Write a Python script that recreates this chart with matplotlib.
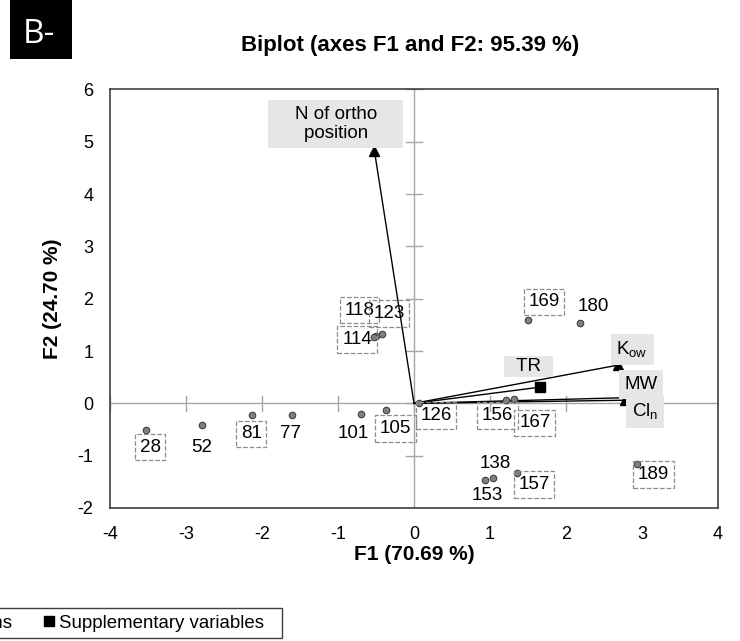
import matplotlib.pyplot as plt
from matplotlib.patches import Rectangle
from matplotlib.lines import Line2D

plt.rcParams['font.family'] = ['Liberation Sans', 'DejaVu Sans']
plt.rcParams['axes.unicode_minus'] = False

# active observations (PCB congeners)
obs_names = ['28', '52', '81', '77', '101', '105', '126', '118', '123', '114',
             '169', '180', '156', '167', '138', '153', '157', '189']
obs_f1 = [-3.52, -2.79, -2.13, -1.61, -0.70, -0.37, 0.07, -0.50, -0.42, -0.52,
          1.50, 2.18, 1.21, 1.32, 1.04, 0.93, 1.36, 2.93]
obs_f2 = [-0.50, -0.42, -0.23, -0.23, -0.21, -0.13, 0.00, 1.29, 1.32, 1.27,
          1.59, 1.54, 0.06, 0.09, -1.43, -1.47, -1.34, -1.15]
obs_boxed = [True, False, True, False, False, True, True, True, True, True,
             True, False, True, True, False, False, True, True]
# label offsets from each point (data units)
obs_dx = [0.05, 0.00, -0.01, -0.01, -0.10, 0.13, 0.22, -0.22, 0.09, -0.23,
          0.21, 0.18, -0.11, 0.27, 0.03, 0.03, 0.22, 0.22]
obs_dy = [-0.34, -0.43, -0.35, -0.34, -0.36, -0.35, -0.23, 0.49, 0.40, -0.05,
          0.35, 0.32, -0.29, -0.46, 0.28, -0.29, -0.21, -0.21]

# active variables
var_names = ['    N of ortho    \n    position    ', 'K$_{\\mathregular{ow}}$', 'MW',
             'Cl$_{\\mathregular{n}}$']
var_f1 = [-0.52, 2.68, 2.82, 2.77]
var_f2 = [4.82, 0.73, 0.11, 0.06]
var_lx = [-1.03, 2.87, 2.99, 3.04]
var_ly = [5.34, 1.03, 0.36, -0.17]

# supplementary variable
sup_names = ['  TR  ']
sup_f1 = [1.66]
sup_f2 = [0.31]
sup_lx = [1.51]
sup_ly = [0.70]

fig = plt.figure(figsize=(7.4, 6.41), dpi=100)
ax = fig.add_axes([110 / 740, 0.2075, 608 / 740, 0.6529])
ax.set_xlim(-4, 4)
ax.set_ylim(-2, 6)
ax.set_xticks(range(-4, 5))
ax.set_yticks(range(-2, 7))
ax.tick_params(length=0, labelsize=13)
ax.tick_params(axis='y', pad=12)
ax.tick_params(axis='x', pad=13)
for s in ax.spines.values():
    s.set_color('#404040')
    s.set_linewidth(1.2)

# zero axes with small crosses
ax.axhline(0, color='#a6a6a6', lw=1, zorder=1)
ax.axvline(0, color='#a6a6a6', lw=1, zorder=1)
for t in range(-2, 7):
    ax.plot([-0.1, 0.1], [t, t], color='#a6a6a6', lw=1, zorder=1)
for t in range(-4, 5):
    ax.plot([t, t], [-0.14, 0.14], color='#a6a6a6', lw=1, zorder=1)

# vectors
for x, y in zip(var_f1, var_f2):
    ax.plot([0, x], [0, y], color='black', lw=1, zorder=2)
    ax.plot(x, y, marker='^', color='black', ms=7, zorder=3)
for x, y in zip(sup_f1, sup_f2):
    ax.plot([0, x], [0, y], color='black', lw=1, zorder=2)
    ax.plot(x, y, marker='s', color='black', ms=7, zorder=3)

# observations
ax.scatter(obs_f1, obs_f2, s=22, color='#808080', edgecolor='#404040', lw=0.8, zorder=4)
for name, x, y, dx, dy, boxed in zip(obs_names, obs_f1, obs_f2, obs_dx, obs_dy, obs_boxed):
    bb = None
    if boxed:
        bb = dict(boxstyle='square,pad=0.25', fc='none', ec='#8c8c8c', ls='--', lw=0.9)
    ax.text(x + dx, y + dy, name, ha='center', va='center', fontsize=13.5, bbox=bb, zorder=5)

lab_box = dict(boxstyle='square,pad=0.3', fc='#e6e6e6', ec='none')
for name, lx, ly in zip(var_names, var_lx, var_ly):
    ax.text(lx, ly, name, ha='center', va='center', fontsize=13.5, bbox=lab_box,
            linespacing=1.2, multialignment='center', zorder=5)
for name, lx, ly in zip(sup_names, sup_lx, sup_ly):
    ax.text(lx, ly, name, ha='center', va='center', fontsize=13.5,
            bbox=dict(boxstyle='square,pad=0.1', fc='#e6e6e6', ec='none'), zorder=5)

fig.text(410 / 740, 1 - 46 / 641, 'Biplot (axes F1 and F2: 95.39 %)', fontsize=16,
         fontweight='bold', ha='center', va='center')
fig.text(414 / 740, 1 - 555 / 641, 'F1 (70.69 %)', fontsize=15,
         fontweight='bold', ha='center', va='center')
fig.text(52 / 740, 0.2075 + 0.6529 / 2, 'F2 (24.70 %)', fontsize=15,
         fontweight='bold', ha='center', va='center', rotation=90)

# panel tag
fig.patches.append(Rectangle((10 / 740, 1 - 59 / 641), 62 / 740, 59 / 641,
                             transform=fig.transFigure, fc='black', ec='none'))
fig.text(39 / 740, 1 - 43 / 641, 'B-', color='white', fontsize=24,
         family='Open Sans', ha='center', va='baseline')

# legend (partly outside the figure, as in the source)
fig.patches.append(Rectangle((-10 / 740, 3 / 641), 292 / 740, 30 / 641,
                             transform=fig.transFigure, fc='white', ec='#404040',
                             lw=1.0, zorder=0))
handles = [
    Line2D([], [], marker='^', color='black', ls='none', ms=7),
    Line2D([], [], marker='o', color='#808080', mec='#404040', ls='none', ms=6),
    Line2D([], [], marker='s', color='black', ls='none', ms=6.5),
]
labels = ['Active variables', 'Active observations', 'Supplementary variables']
leg = fig.legend(handles, labels, ncol=3, loc='center right',
                 bbox_to_anchor=(264 / 740, 18 / 641), fontsize=13.4,
                 frameon=False, handletextpad=0.15, columnspacing=1.55,
                 borderpad=0, handlelength=0.8, borderaxespad=0)

fig.savefig('out.png', dpi=100)
